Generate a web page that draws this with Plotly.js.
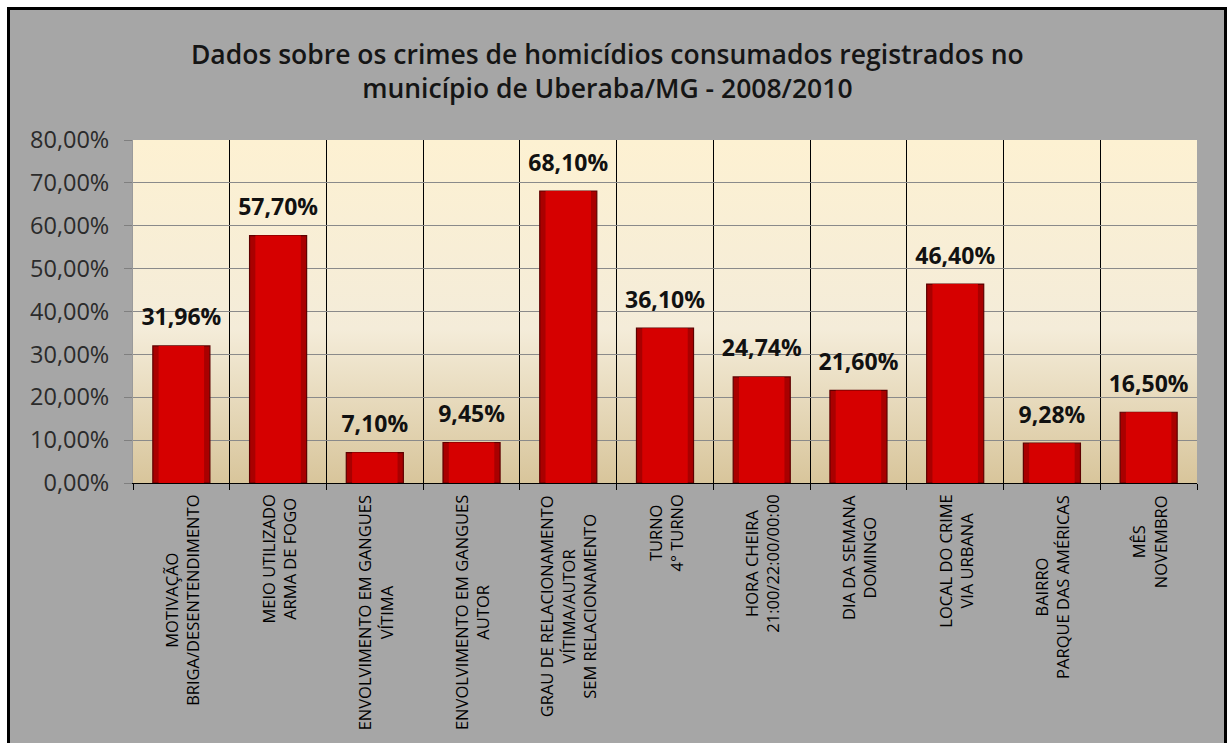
<!DOCTYPE html>
<html>
<head>
<meta charset="utf-8">
<script src="https://cdn.plot.ly/plotly-3.0.1.min.js"></script>
<style>
  html, body { margin: 0; padding: 0; background: #ffffff; width: 1227px; height: 743px; overflow: hidden; }
  #frame { position: absolute; left: 7px; top: 7px; width: 1220px; height: 760px; box-sizing: border-box;
           border: 3px solid #000; background: #a6a6a6; }
  #chart { position: absolute; left: 0; top: 0; width: 1227px; height: 743px; }
</style>
</head>
<body>
<div id="frame"></div>
<div id="chart"></div>
<script>
// ---- data ----
const categories = [
  "MOTIVAÇÃO<br>BRIGA/DESENTENDIMENTO",
  "MEIO UTILIZADO<br>ARMA DE FOGO",
  "ENVOLVIMENTO EM GANGUES<br>VÍTIMA",
  "ENVOLVIMENTO EM GANGUES<br>AUTOR",
  "GRAU DE RELACIONAMENTO<br>VÍTIMA/AUTOR<br>SEM RELACIONAMENTO",
  "TURNO<br>4° TURNO",
  "HORA CHEIRA<br>21:00/22:00/00:00",
  "DIA DA SEMANA<br>DOMINGO",
  "LOCAL DO CRIME<br>VIA URBANA",
  "BAIRRO<br>PARQUE DAS AMÉRICAS",
  "MÊS<br>NOVEMBRO"
];
const percentages = [31.96, 57.70, 7.10, 9.45, 68.10, 36.10, 24.74, 21.60, 46.40, 9.28, 16.50];
const yTickValues = [0, 10, 20, 30, 40, 50, 60, 70, 80];
const yTickLabels = ["0,00%", "10,00%", "20,00%", "30,00%", "40,00%", "50,00%", "60,00%", "70,00%", "80,00%"];
const titleText = "Dados sobre os crimes de homicídios consumados registrados no<br>município de Uberaba/MG - 2008/2010";

const FONT = "Open Sans, Noto Sans, sans-serif";

const gradSvg = '<svg xmlns="http://www.w3.org/2000/svg" width="100" height="100" preserveAspectRatio="none">' +
  '<defs><linearGradient id="g" x1="0" y1="0" x2="0" y2="1">' +
  '<stop offset="0" stop-color="#fdf1d2"/><stop offset="0.55" stop-color="#f4ecd9"/>' +
  '<stop offset="1" stop-color="#d8c59b"/></linearGradient></defs>' +
  '<rect width="100" height="100" fill="url(#g)"/></svg>';
const gradUri = 'data:image/svg+xml;base64,' + btoa(gradSvg);

const barsOuter = {
  type: 'bar',
  x: categories,
  y: percentages,
  width: 0.59,
  marker: { color: '#a90000', line: { color: '#5e0000', width: 1.2 } },
  hoverinfo: 'skip',
  showlegend: false
};
const barsInner = {
  type: 'bar',
  x: categories,
  y: percentages,
  width: 0.47,
  marker: { color: '#d60000', line: { width: 0 } },
  hoverinfo: 'skip',
  showlegend: false
};

const labels = {
  type: 'scatter',
  mode: 'markers+text',
  x: categories,
  y: percentages,
  marker: { size: 22, opacity: 0 },
  texttemplate: '%{y:.2f}%',
  textposition: 'top center',
  textfont: { family: FONT, size: 23, color: '#111', weight: 'bold' },
  cliponaxis: false,
  hoverinfo: 'skip',
  showlegend: false
};

const catAnnotations = categories.map(c => ({
  x: c, y: 0, xref: 'x', yref: 'y',
  text: c, showarrow: false, textangle: -90,
  xanchor: 'center', yanchor: 'top', align: 'center',
  yshift: -10,
  font: { family: FONT, size: 16.5, color: '#000' }
}));

const layout = {
  width: 1227, height: 743,
  margin: { l: 133, r: 30, t: 140, b: 260 },
  paper_bgcolor: 'rgba(0,0,0,0)',
  plot_bgcolor: 'rgba(0,0,0,0)',
  separators: ',.',
  barmode: 'overlay',
  title: {
    text: titleText,
    x: 0.495, xref: 'container', xanchor: 'center',
    y: 1 - 64 / 743, yref: 'container', yanchor: 'middle',
    font: { family: FONT, size: 26.5, color: '#151515', weight: 600 }
  },
  xaxis: {
    type: 'category',
    range: [-0.5, categories.length - 0.5],
    tickson: 'boundaries',
    showticklabels: false,
    ticks: 'outside', ticklen: 6, tickcolor: '#000', tickwidth: 1,
    showgrid: true, gridcolor: '#000', gridwidth: 1,
    showline: true, linecolor: '#000', linewidth: 1,
    fixedrange: true
  },
  yaxis: {
    range: [0, 80],
    tickmode: 'array',
    tickvals: yTickValues,
    ticktext: yTickLabels,
    ticks: 'outside', ticklen: 8, tickcolor: '#7f7f7f',
    ticklabelstandoff: 10,
    tickfont: { family: FONT, size: 23.5, color: '#2b2b2b' },
    showgrid: true, gridcolor: '#8a8a8a', gridwidth: 1,
    zeroline: false,
    showline: true, linecolor: '#9a9a9a', linewidth: 1,
    fixedrange: true
  },
  images: [{
    source: gradUri, xref: 'paper', yref: 'paper',
    x: 0, y: 1, sizex: 1, sizey: 1, xanchor: 'left', yanchor: 'top',
    sizing: 'stretch', layer: 'below'
  }],
  annotations: catAnnotations
};

Plotly.newPlot('chart', [barsOuter, barsInner, labels], layout, { displayModeBar: false, staticPlot: true });
</script>
</body>
</html>
